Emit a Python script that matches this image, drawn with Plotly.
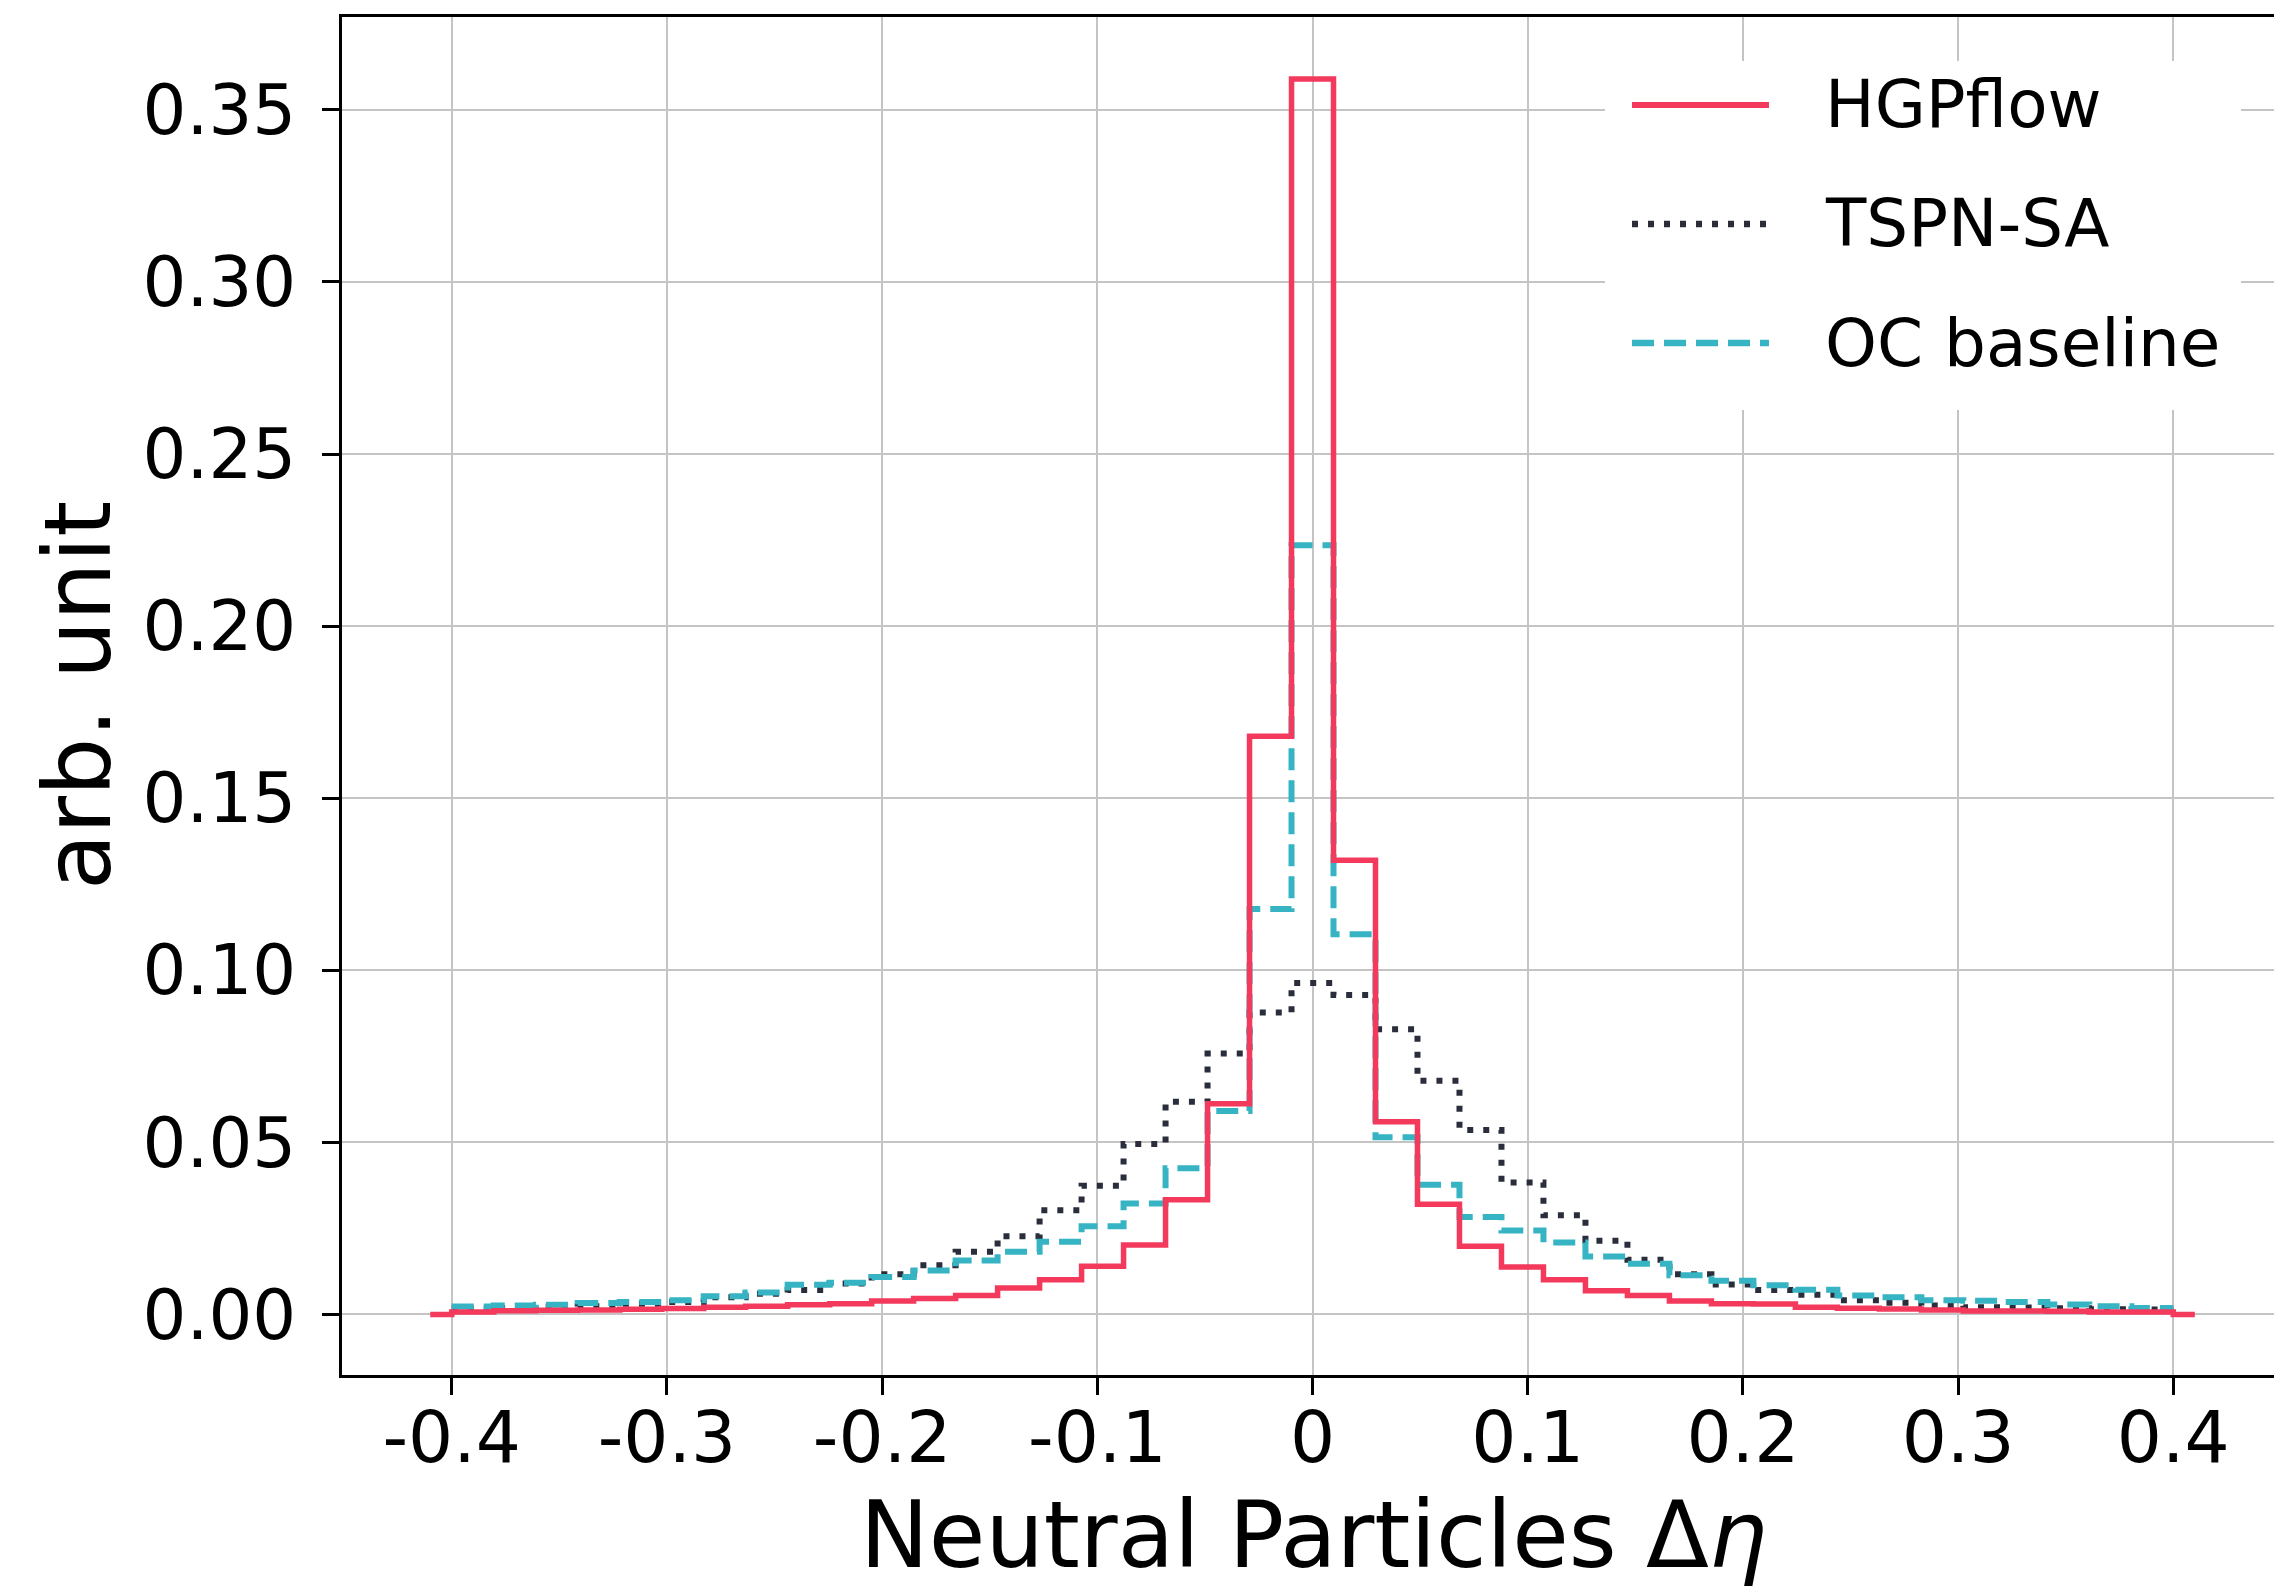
import numpy as np
import plotly.graph_objects as go

# Histogram binning: 41 equal bins between -0.4 and 0.4
bin_lo, bin_hi, n_bins = -0.4, 0.4, 41
bin_edges = np.linspace(bin_lo, bin_hi, n_bins + 1)

# Normalised bin contents (arb. unit), left to right
hgpflow = [
    0.0007, 0.0011, 0.0012, 0.0013, 0.0015, 0.0017, 0.0021, 0.0024, 0.0028, 0.0031,
    0.0039, 0.0046, 0.0055, 0.0077, 0.0101, 0.0140, 0.0202, 0.0333, 0.0612, 0.1680,
    0.3590,
    0.1320, 0.0560, 0.0320, 0.0198, 0.0138, 0.0101, 0.0069, 0.0055, 0.0039, 0.0031,
    0.0030, 0.0021, 0.0018, 0.0016, 0.0013, 0.0010, 0.0010, 0.0009, 0.0007, 0.0007,
]
tspn_sa = [
    0.0017, 0.0019, 0.0023, 0.0024, 0.0031, 0.0036, 0.0050, 0.0060, 0.0071, 0.0090,
    0.0117, 0.0143, 0.0182, 0.0227, 0.0303, 0.0374, 0.0495, 0.0618, 0.0758, 0.0877,
    0.0963,
    0.0928, 0.0829, 0.0679, 0.0536, 0.0383, 0.0288, 0.0214, 0.0159, 0.0117, 0.0087,
    0.0071, 0.0057, 0.0041, 0.0034, 0.0026, 0.0021, 0.0020, 0.0018, 0.0015, 0.0014,
]
oc_baseline = [
    0.0023, 0.0026, 0.0028, 0.0033, 0.0036, 0.0041, 0.0053, 0.0064, 0.0086, 0.0092,
    0.0109, 0.0128, 0.0157, 0.0182, 0.0211, 0.0256, 0.0322, 0.0425, 0.0591, 0.1178,
    0.2235,
    0.1105, 0.0515, 0.0377, 0.0283, 0.0244, 0.0209, 0.0168, 0.0147, 0.0114, 0.0098,
    0.0085, 0.0072, 0.0055, 0.0050, 0.0041, 0.0040, 0.0036, 0.0029, 0.0024, 0.0019,
]

# HGPflow outline is padded with an empty stretch out to +-0.41
hgp_outer = (-0.41, 0.41)

series_names = ["HGPflow", "TSPN-SA", "OC baseline"]
series_colors = ["#F33A5C", "#2A2D3C", "#36B4C3"]
series_dash = ["solid", "6px,10px", "22px,10px"]
series_width = [5.5, 6, 6]

x_tick_vals = [-0.4, -0.3, -0.2, -0.1, 0.0, 0.1, 0.2, 0.3, 0.4]
x_tick_text = ["-0.4", "-0.3", "-0.2", "-0.1", "0", "0.1", "0.2", "0.3", "0.4"]
y_tick_vals = [0.00, 0.05, 0.10, 0.15, 0.20, 0.25, 0.30, 0.35]
y_tick_text = ["0.00", "0.05", "0.10", "0.15", "0.20", "0.25", "0.30", "0.35"]

x_title = "Neutral Particles \u0394<i>\u03b7</i>"
y_title = "arb. unit"

FONT = "DejaVu Sans"


def step_xy(values, outer=None):
    """Outline of a step histogram, drawn with line_shape='hv'."""
    xs = list(bin_edges)
    ys = list(values) + [values[-1]]
    if outer is not None:
        xs = [outer[0]] + xs + [outer[1]]
        ys = [0.0] + list(values) + [0.0, 0.0]
    return xs, ys


fig = go.Figure()

# draw order: TSPN-SA, OC baseline, HGPflow on top
order = [1, 2, 0]
data = [hgpflow, tspn_sa, oc_baseline]
for i in order:
    xs, ys = step_xy(data[i], hgp_outer if i == 0 else None)
    fig.add_trace(go.Scatter(
        x=xs, y=ys, mode="lines", line_shape="hv",
        name=series_names[i], showlegend=False,
        line=dict(color=series_colors[i], width=series_width[i], dash=series_dash[i]),
    ))

# Legend box drawn in paper coordinates (long line samples)
shapes = [dict(type="rect", xref="paper", yref="paper",
               x0=0.6537, x1=0.9829, y0=0.7106, y1=0.9676,
               fillcolor="white", line=dict(width=0), layer="above")]
annotations = []
legend_rows = [0.9352, 0.8476, 0.7599]
for i, yy in enumerate(legend_rows):
    shapes.append(dict(type="line", xref="paper", yref="paper",
                       x0=0.6677, x1=0.7386, y0=yy, y1=yy, layer="above",
                       line=dict(color=series_colors[i], width=series_width[i] + 0.5,
                                 dash=series_dash[i])))
    annotations.append(dict(xref="paper", yref="paper", x=0.7666, y=yy,
                            xanchor="left", yanchor="middle", showarrow=False,
                            text=series_names[i],
                            font=dict(family=FONT, size=66, color="black")))

# Axis titles
annotations.append(dict(xref="paper", yref="paper", x=0.503, y=-0.118,
                        xanchor="center", yanchor="middle", showarrow=False,
                        text=x_title, font=dict(family=FONT, size=92, color="black")))
annotations.append(dict(xref="paper", yref="paper", x=-0.1366, y=0.5,
                        xanchor="center", yanchor="middle", showarrow=False,
                        textangle=-90, text=y_title,
                        font=dict(family=FONT, size=92, color="black")))

fig.update_layout(
    width=2274, height=1595,
    margin=dict(l=342, r=0, t=17, b=220),
    paper_bgcolor="white", plot_bgcolor="white",
    shapes=shapes, annotations=annotations,
    font=dict(family=FONT, color="black"),
)

fig.update_xaxes(
    range=[-0.451, 0.4468],
    tickmode="array", tickvals=x_tick_vals, ticktext=x_tick_text,
    tickfont=dict(family=FONT, size=71, color="black"),
    ticks="outside", ticklen=17, tickwidth=3, tickcolor="black",
    ticklabelstandoff=-18,
    showline=True, linewidth=3, linecolor="black", mirror=True,
    showgrid=True, gridcolor="#c4c4c4", gridwidth=2, zeroline=False,
)
fig.update_yaxes(
    range=[-0.0176, 0.377],
    tickmode="array", tickvals=y_tick_vals, ticktext=y_tick_text,
    tickfont=dict(family=FONT, size=69, color="black"),
    ticks="outside", ticklen=17, tickwidth=3, tickcolor="black",
    ticklabelstandoff=12,
    showline=True, linewidth=3, linecolor="black", mirror=False,
    showgrid=True, gridcolor="#c4c4c4", gridwidth=2, zeroline=False,
)

fig.write_html("out.html")
